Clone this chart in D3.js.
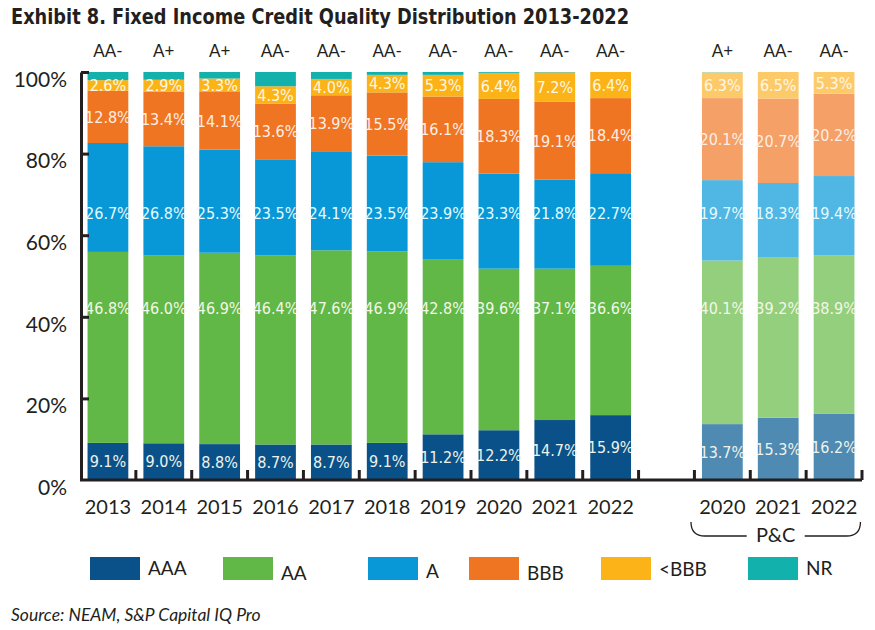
<!DOCTYPE html>
<html>
<head>
<meta charset="utf-8">
<script src="https://cdn.jsdelivr.net/npm/d3@7"></script>
<style>
  body { margin: 0; background: #fff; }
  svg { display: block; }
  .num { font-family: "Liberation Sans Narrow", "DejaVu Sans Condensed", sans-serif; font-size: 16px; }
</style>
</head>
<body>
<div id="chart"></div>
<script>
// values (percent of portfolio)
var years = ["2013", "2014", "2015", "2016", "2017", "2018", "2019", "2020", "2021", "2022"]
var pcYears = ["2020", "2021", "2022"]
var ratings = ["AAA", "AA", "A", "BBB", "<BBB", "NR"]

var aaa = [9.1, 9.0, 8.8, 8.7, 8.7, 9.1, 11.2, 12.2, 14.7, 15.9]
var aa = [46.8, 46.0, 46.9, 46.4, 47.6, 46.9, 42.8, 39.6, 37.1, 36.6]
var a = [26.7, 26.8, 25.3, 23.5, 24.1, 23.5, 23.9, 23.3, 21.8, 22.7]
var bbb = [12.8, 13.4, 14.1, 13.6, 13.9, 15.5, 16.1, 18.3, 19.1, 18.4]
var belowBbb = [2.6, 2.9, 3.3, 4.3, 4.0, 4.3, 5.3, 6.4, 7.2, 6.4]
var nr = [2.0, 1.9, 1.6, 3.5, 1.7, 0.7, 0.7, 0.2, 0.1, 0.0]
var avgRating = ["AA-", "A+", "A+", "AA-", "AA-", "AA-", "AA-", "AA-", "AA-", "AA-"]

var pcAaa = [13.7, 15.3, 16.2]
var pcAa = [40.1, 39.2, 38.9]
var pcA = [19.7, 18.3, 19.4]
var pcBbb = [20.1, 20.7, 20.2]
var pcBelowBbb = [6.3, 6.5, 5.3]
var pcNr = [0.1, 0.0, 0.0]
var pcAvgRating = ["A+", "AA-", "AA-"]

var yTicks = [0, 20, 40, 60, 80, 100]

var colors = ["#0b5189", "#61b846", "#0898d7", "#f07522", "#fbb317", "#12b1ab"]
var pcColors = ["#4f8ab3", "#93cf7d", "#50b6e4", "#f4a067", "#fdca6a", "#6fd0cb"]

// build rows: total industry, an empty slot, then P&C
var rows = years.map(function(y, i) {
    return { key: y, label: y, pc: false, rating: avgRating[i],
        AAA: aaa[i], AA: aa[i], A: a[i], BBB: bbb[i], "<BBB": belowBbb[i], NR: nr[i] }
})
var pcRows = pcYears.map(function(y, i) {
    return { key: "pc" + y, label: y, pc: true, rating: pcAvgRating[i],
        AAA: pcAaa[i], AA: pcAa[i], A: pcA[i], BBB: pcBbb[i], "<BBB": pcBelowBbb[i], NR: pcNr[i] }
})
var all = rows.concat(pcRows)
var domain = years.concat(["gap"], pcRows.map(function(d) { return d.key }))

var width = 875, height = 630
var svg = d3.select("#chart").append("svg")
    .attr("width", width)
    .attr("height", height)

var x = d3.scaleBand()
    .domain(domain)
    .range([80, 862])
    .paddingInner(0.27)
    .paddingOuter(0.135)

var y = d3.scaleLinear()
    .domain([0, 100])
    .range([480, 72])

var stack = d3.stack().keys(ratings)
var series = stack(all)

// bars
var layer = svg.append("g").selectAll("g")
    .data(series)
    .enter().append("g")

layer.selectAll("rect")
    .data(function(s) { return s.map(function(d) { return { s: s, d: d } }) })
    .enter().append("rect")
    .attr("x", function(o) { return x(o.d.data.key) })
    .attr("width", x.bandwidth())
    .attr("y", function(o) { return y(o.d[1]) })
    .attr("height", function(o) { return y(o.d[0]) - y(o.d[1]) })
    .attr("fill", function(o) { return o.d.data.pc ? pcColors[o.s.index] : colors[o.s.index] })

// value labels (AA and A labels sit on a common line in the original)
var fixedY = { AA: 42.2, A: 65.4 }
var labelFill = ["#eef3ea", "#f3f6e8", "#e4fbff", "#fdeee6", "#fff7e4"]
series.slice(0, 5).forEach(function(s) {
    svg.append("g").selectAll("text")
        .data(s)
        .enter().append("text")
        .attr("class", "num")
        .attr("x", function(d) { return x(d.data.key) + x.bandwidth() / 2 })
        .attr("y", function(d) {
            var v = fixedY[s.key] !== undefined ? fixedY[s.key] : (d[0] + d[1]) / 2
            return y(v)
        })
        .attr("dy", "0.36em")
        .attr("text-anchor", "middle")
        .attr("fill", labelFill[s.index])
        .text(function(d) { return d.data[s.key].toFixed(1) + "%" })
})

// average rating above each bar
svg.append("g").selectAll("text")
    .data(all)
    .enter().append("text")
    .attr("x", function(d) { return x(d.key) + x.bandwidth() / 2 })
    .attr("y", 51)
    .attr("dy", "0.36em")
    .attr("text-anchor", "middle")
    .style("font-family", "Lato, 'Open Sans', sans-serif")
    .style("font-size", "17px")
    .attr("fill", "#231f20")
    .text(function(d) { return d.rating })

// y axis
var yAxis = svg.append("g")
    .attr("transform", "translate(81,0)")
    .call(d3.axisLeft(y)
        .tickValues(yTicks)
        .tickFormat(function(d) { return d + "%" })
        .tickSizeInner(-8)
        .tickSizeOuter(0)
        .tickPadding(14))
yAxis.select(".domain").attr("stroke", "#231f20").attr("stroke-width", 3)
yAxis.selectAll(".tick line").attr("stroke", "#231f20").attr("stroke-width", 3)
yAxis.selectAll(".tick text")
    .attr("dy", "0.68em")
    .attr("fill", "#231f20")
    .style("font-family", "Lato, 'Open Sans', sans-serif")
    .style("font-size", "21px")
yAxis.selectAll(".tick").filter(function(d) { return d === 0 }).select("line").remove()

// x axis line and separators between slots
var xg = svg.append("g")
xg.append("line")
    .attr("x1", 80).attr("x2", 862)
    .attr("y1", 480).attr("y2", 480)
    .attr("stroke", "#231f20").attr("stroke-width", 3)
xg.selectAll(".sep")
    .data(domain)
    .enter().append("line")
    .attr("x1", function(d) { return x(d) + x.bandwidth() + x.step() * x.paddingInner() / 2 })
    .attr("x2", function(d) { return x(d) + x.bandwidth() + x.step() * x.paddingInner() / 2 })
    .attr("y1", 480).attr("y2", 470)
    .attr("stroke", "#231f20").attr("stroke-width", 3)

xg.selectAll(".lbl")
    .data(all)
    .enter().append("text")
    .attr("x", function(d) { return x(d.key) + x.bandwidth() / 2 })
    .attr("y", 507)
    .attr("dy", "0.36em")
    .attr("text-anchor", "middle")
    .style("font-family", "Lato, 'Open Sans', sans-serif")
    .style("font-size", "20px")
    .attr("fill", "#231f20")
    .text(function(d) { return d.label })

// P&C bracket
var bx0 = x(pcRows[0].key) - 11, bx1 = x(pcRows[2].key) + x.bandwidth() + 6
var bMid = (bx0 + bx1) / 2
var bracket = svg.append("g")
    .attr("fill", "none")
    .attr("stroke", "#231f20")
    .attr("stroke-width", 1.3)
bracket.append("path")
    .attr("d", "M" + bx0 + ",522 Q" + bx0 + ",536 " + (bx0 + 14) + ",536 L" + (bMid - 29) + ",536")
bracket.append("path")
    .attr("d", "M" + bx1 + ",522 Q" + bx1 + ",536 " + (bx1 - 14) + ",536 L" + (bMid + 29) + ",536")
svg.append("text")
    .attr("x", bMid)
    .attr("y", 535)
    .attr("dy", "0.36em")
    .attr("text-anchor", "middle")
    .style("font-family", "Lato, 'Open Sans', sans-serif")
    .style("font-size", "20px")
    .attr("fill", "#231f20")
    .text("P&C")

// legend
var legendX = [90, 223, 368, 469, 601, 748]
var legendTextY = [568, 573, 571, 573, 569, 568]
var leg = svg.append("g").selectAll("g")
    .data(ratings)
    .enter().append("g")
    .attr("transform", function(d, i) { return "translate(" + legendX[i] + ",0)" })
leg.append("rect")
    .attr("y", 557)
    .attr("width", 50)
    .attr("height", 23)
    .attr("fill", function(d, i) { return colors[i] })
leg.append("text")
    .attr("x", 58)
    .attr("y", function(d, i) { return legendTextY[i] })
    .attr("dy", "0.36em")
    .style("font-family", "Lato, 'Open Sans', sans-serif")
    .style("font-size", "19px")
    .attr("fill", "#231f20")
    .text(function(d) { return d })

// title and source
svg.append("text")
    .attr("x", 11)
    .attr("y", 24)
    .attr("textLength", 618)
    .attr("lengthAdjust", "spacingAndGlyphs")
    .style("font-family", "'Liberation Sans Narrow', 'DejaVu Sans Condensed', sans-serif")
    .style("font-weight", 700)
    .style("font-size", "22px")
    .attr("fill", "#231f20")
    .text("Exhibit 8. Fixed Income Credit Quality Distribution 2013-2022")

svg.append("text")
    .attr("x", 11)
    .attr("y", 621)
    .style("font-family", "Lato, 'Open Sans', sans-serif")
    .style("font-style", "italic")
    .style("font-size", "17.5px")
    .attr("fill", "#231f20")
    .text("Source: NEAM, S&P Capital IQ Pro")
</script>
</body>
</html>
